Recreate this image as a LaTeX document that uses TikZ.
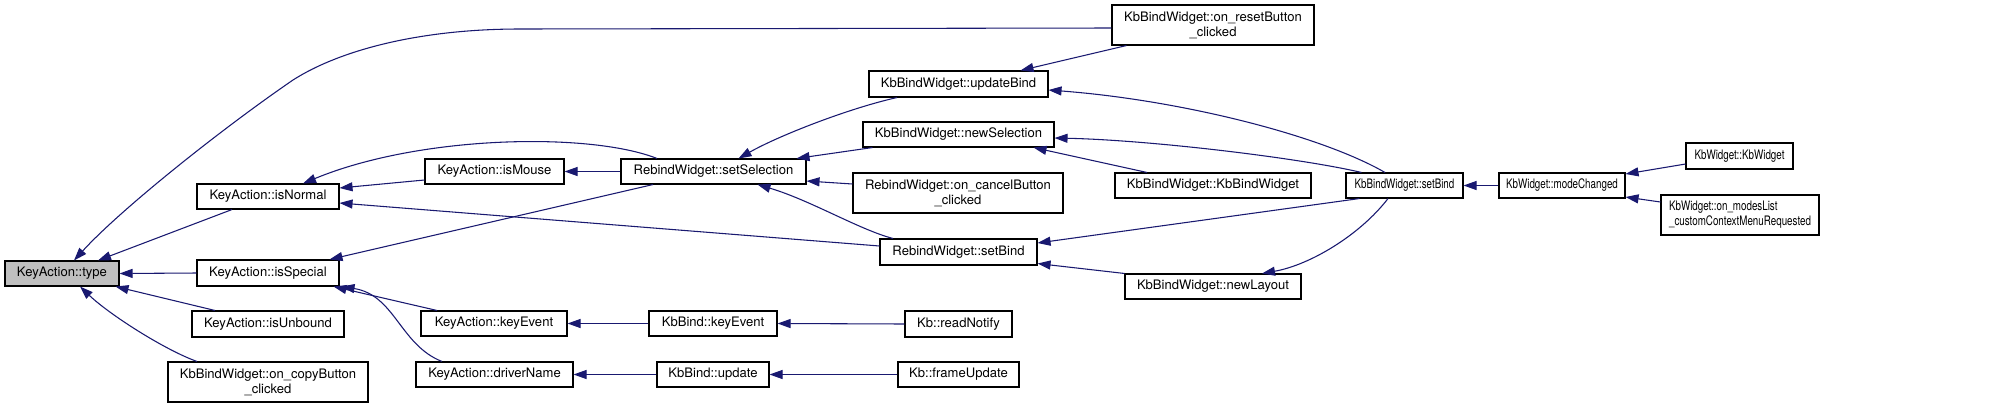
\documentclass[tikz,border=0pt]{standalone}
\usepackage{fontspec}
\setmainfont{TeX Gyre Heros}
\usetikzlibrary{arrows.meta,calc}
\definecolor{navyedge}{HTML}{191970}
\definecolor{typegrey}{HTML}{BFBFBF}
\begin{document}
\begin{tikzpicture}[x=0.75pt,y=-0.75pt,
  box/.style={draw=black, line width=0.8pt, fill=white, inner sep=0pt, align=center,
    font=\fontsize{9.8}{11.25}\selectfont},
  bw/.style={minimum width={#1*0.75pt}},
  bh/.style={minimum height={#1*0.75pt}},
  link/.style={draw=navyedge, line width=0.8pt, -{Triangle[length=9.75pt,width=6.75pt]}}]
\useasboundingbox[fill=white] (0,0) rectangle (2005,408);

\node[box,bw=114,bh=25,fill=typegrey] (type) at (62,273.5) {KeyAction::type};
\node[box,bw=142,bh=25] (isNormal) at (268,196.5) {KeyAction::isNormal};
\node[box,bw=142,bh=26] (isSpecial) at (268,273) {KeyAction::isSpecial};
\node[box,bw=152,bh=26] (isUnbound) at (268,324) {KeyAction::isUnbound};
\node[box,bw=200,bh=40] (onCopy) at (268,382) {KbBindWidget::on\_copyButton\\\_clicked};
\node[box,bw=139,bh=25] (isMouse) at (494.5,171.5) {KeyAction::isMouse};
\node[box,bw=185,bh=25] (setSel) at (713.5,171.5) {RebindWidget::setSelection};
\node[box,bw=146,bh=25] (kaKey) at (494,323.5) {KeyAction::keyEvent};
\node[box,bw=157,bh=25] (drvName) at (494.5,374.5) {KeyAction::driverName};
\node[box,bw=128,bh=25] (kbKey) at (713,323.5) {KbBind::keyEvent};
\node[box,bw=112,bh=25] (kbUpd) at (713,374.5) {KbBind::update};
\node[box,bw=202,bh=40] (onReset) at (1213,25) {KbBindWidget::on\_resetButton\\\_clicked};
\node[box,bw=179,bh=26] (updBind) at (958.5,84) {KbBindWidget::updateBind};
\node[box,bw=191,bh=25] (newSel) at (958.5,134.5) {KbBindWidget::newSelection};
\node[box,bw=210,bh=40] (onCancel) at (958,193) {RebindWidget::on\_cancelButton\\\_clicked};
\node[box,bw=196,bh=25] (kbbwCtor) at (1213,185.5) {KbBindWidget::KbBindWidget};
\node[box,bw=157,bh=26] (rwSetBind) at (958.5,252) {RebindWidget::setBind};
\node[box,bw=176,bh=25] (newLayout) at (1213,286.5) {KbBindWidget::newLayout};
\node[box,bw=107,bh=26] (readNotify) at (958.5,324) {Kb::readNotify};
\node[box,bw=121,bh=25] (frameUpd) at (958.5,374.5) {Kb::frameUpdate};
\node[box,bw=117,bh=25] (kbwSetBind) at (1404.5,185.5) {\scalebox{0.75}[1]{KbBindWidget::setBind}};
\node[box,bw=126,bh=25] (modeChg) at (1562,185.5) {\scalebox{0.75}[1]{KbWidget::modeChanged}};
\node[box,bw=107,bh=26] (kbwCtor) at (1739.5,156) {\scalebox{0.75}[1]{KbWidget::KbWidget}};
\node[box,bw=158,bh=40] (onModes) at (1740,215) {\scalebox{0.75}[1]{\begin{tabular}{@{}l@{}}KbWidget::on\_modesList\\\_customContextMenuRequested\end{tabular}}};

% edges (caller -> callee, arrow at callee)
\draw[link] ($(onReset.west)+(0,3)$) -- (520,29) .. controls (420,29) and (340,50) .. (293,80) .. controls (220,130) and (120,210) .. ($(type.north)+(12,0)$);
\draw[link] ($(isNormal.south)+(-36,0)$) -- ($(type.north)+(36,0)$);
\draw[link] (isSpecial.west) -- (type.east);
\draw[link] ($(isUnbound.north)+(-53,0)$) -- ($(type.south east)+(-4,0)$);
\draw[link] ($(onCopy.north)+(-71,0)$) .. controls (165,350) and (110,315) .. ($(type.south)+(18,0)$);

\draw[link] ($(setSel.north)+(-56.5,0)$) .. controls (590,132) and (420,135) .. ($(isNormal.north)+(35,0)$);
\draw[link] ($(isMouse.west)+(0,8.5)$) -- ($(isNormal.east)+(0,-8.5)$);
\draw[link] ($(rwSetBind.west)+(0,-6)$) -- ($(isNormal.east)+(0,6.5)$);

\draw[link] ($(setSel.south)+(-60.5,0)$) -- ($(isSpecial.north east)+(-10,0)$);
\draw[link] ($(kaKey.north)+(-57,0)$) -- ($(isSpecial.south east)+(-6,0)$);
\draw[link] ($(drvName.north)+(-52.5,0)$) .. controls (400,345) and (395,295) .. ($(isSpecial.south east)+(2,0)$);

\draw[link] (setSel.west) -- (isMouse.east);
\draw[link] ($(updBind.south)+(-61.5,0)$) .. controls (850,108) and (780,135) .. ($(setSel.north)+(25,0)$);
\draw[link] ($(newSel.south west)+(10,0)$) -- ($(setSel.north east)+(-10,0)$);
\draw[link] ($(onCancel.west)+(0,-9)$) -- ($(setSel.east)+(0,9.5)$);
\draw[link] ($(rwSetBind.north)+(-65.5,0)$) .. controls (860,230) and (810,200) .. ($(setSel.south)+(44,0)$);

\draw[link] ($(onReset.south west)+(15,0)$) -- ($(updBind.north east)+(-28,0)$);
\draw[link] ($(kbwSetBind.north)+(-19.5,0)$) .. controls (1320,135) and (1180,100) .. ($(updBind.east)+(0,6)$);
\draw[link] ($(kbwSetBind.north west)+(16,0)$) .. controls (1300,158) and (1150,140) .. ($(newSel.east)+(0,3.5)$);
\draw[link] ($(kbbwCtor.north)+(-66,0)$) -- ($(newSel.south east)+(-21,0)$);
\draw[link] ($(kbwSetBind.south west)+(14,0)$) -- ($(rwSetBind.east)+(0,-9)$);
\draw[link] (newLayout.north west) -- ($(rwSetBind.south east)+(0,-2)$);
\draw[link] ($(kbwSetBind.south)+(-16.5,0)$) .. controls (1360,235) and (1310,265) .. ($(newLayout.north)+(49,0)$);

\draw[link] (kbKey.west) -- (kaKey.east);
\draw[link] (readNotify.west) -- (kbKey.east);
\draw[link] (kbUpd.west) -- (drvName.east);
\draw[link] (frameUpd.west) -- (kbUpd.east);

\draw[link] (modeChg.west) -- (kbwSetBind.east);
\draw[link] ($(kbwCtor.west)+(0,8)$) -- ($(modeChg.east)+(0,-11.5)$);
\draw[link] ($(onModes.west)+(0,-13)$) -- ($(modeChg.east)+(0,11.5)$);
\end{tikzpicture}
\end{document}
